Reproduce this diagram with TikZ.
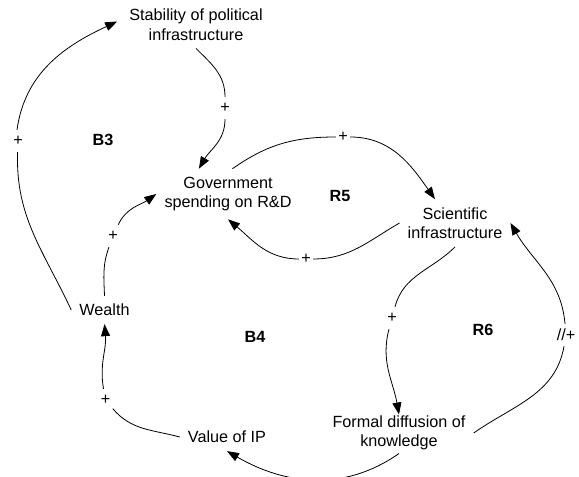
\documentclass[tikz,border=0pt]{standalone}
\usepackage{fontspec}
\setmainfont{Liberation Sans}
\usetikzlibrary{arrows.meta}
\begin{document}
\begin{tikzpicture}[x=1pt,y=1pt,
  var/.style={align=center, inner sep=8pt, font=\fontsize{16.2}{19.5}\selectfont},
  pol/.style={inner sep=0pt, minimum width=14pt, minimum height=22pt, font=\fontsize{16.2}{19.5}\selectfont},
  loopname/.style={font=\fontsize{16.2}{19.5}\selectfont\bfseries},
  seg/.style={line width=0.8pt},
  link/.style={line width=0.8pt, -{Triangle[length=12pt,width=9pt]}}]
\useasboundingbox (0,0) rectangle (579,477);
\node[var] (stab) at (196,452.5) {Stability of political\\infrastructure};
\node[var] (gov) at (228,283) {Government\\spending on R\&D};
\node[var] (sci) at (455,254) {Scientific\\infrastructure};
\node[var] (wealth) at (104.5,167) {Wealth};
\node[var] (vip) at (227,40) {Value of IP};
\node[var] (formal) at (399,44) {Formal diffusion of\\knowledge};
\node[pol] (p1) at (18,336) {+};
\node[pol] (p2) at (225,369) {+};
\node[pol] (p3) at (113,241) {+};
\node[pol] (p4) at (343,340) {+};
\node[pol] (p5) at (306,218) {+};
\node[pol] (p6) at (392,159) {+};
\node[pol] (p7) at (566,142) {//+};
\node[pol] (p8) at (105.5,77) {+};
\node[loopname] (b3) at (103,337) {B3};
\node[loopname] (r5) at (340,281) {R5};
\node[loopname] (b4) at (255,140) {B4};
\node[loopname] (r6) at (483,147) {R6};
\draw[seg] (wealth.west) to[out=115,in=-92] (p1);
\draw[link] ([xshift=-1pt]p1.north) to[out=82,in=205] ([xshift=-4pt,yshift=3pt]stab.west);
\draw[seg] (stab.south) to[out=-45,in=90] (p2);
\draw[link] (p2) to[out=-90,in=60] (gov.139);
\draw[seg] (wealth.north) to[out=92,in=-110] (p3);
\draw[link] (p3) to[out=65,in=215] (gov.west);
\draw[seg] (gov.80) to[out=35,in=180] (p4);
\draw[link] (p4) to[out=0,in=125] (sci.130);
\draw[seg] (sci.west) to[out=210,in=0] (p5);
\draw[link] (p5) to[out=180,in=-40] (gov.south);
\draw[seg] (sci.south) to[out=225,in=75] (p6);
\draw[link] (p6) to[out=-105,in=100] ([yshift=-7pt]formal.north);
\draw[seg] (formal.east) to[out=35,in=-100] (p7);
\draw[link] (p7) to[out=95,in=-60] (sci.east);
\draw[link] ([yshift=5pt]formal.south) to[out=-145,in=-30] (vip.south);
\draw[seg] (vip.west) to[out=165,in=-50] (p8);
\draw[link] (p8) to[out=100,in=-85] (wealth.south);
\end{tikzpicture}
\end{document}
